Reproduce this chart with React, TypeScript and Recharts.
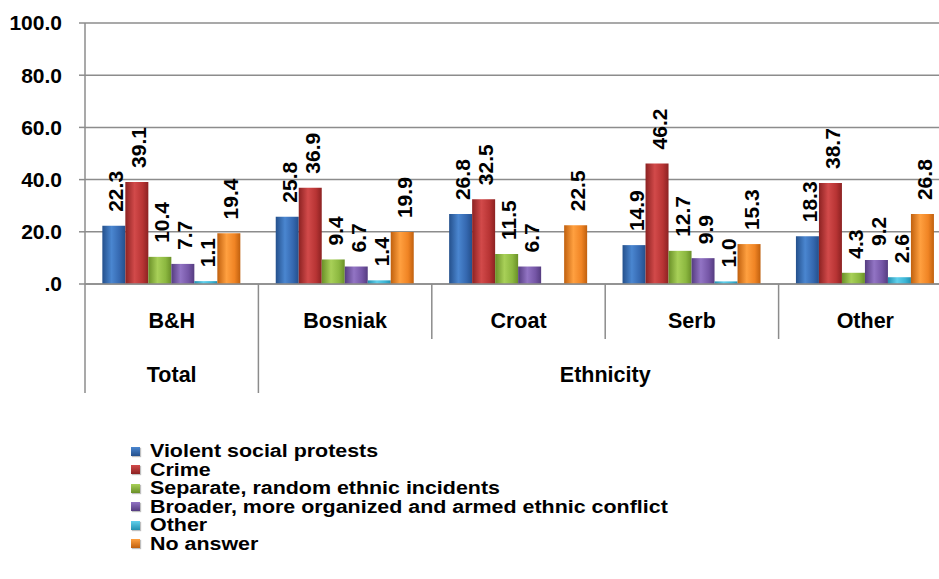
import React from 'react';
import { BarChart, Bar, XAxis, YAxis, CartesianGrid, Legend, LabelList } from 'recharts';

const categories = ['B&H', 'Bosniak', 'Croat', 'Serb', 'Other'];
const groupLabels = ['Total', 'Ethnicity', 'Ethnicity', 'Ethnicity', 'Ethnicity'];
const violentProtests = [22.3, 25.8, 26.8, 14.9, 18.3];
const crime = [39.1, 36.9, 32.5, 46.2, 38.7];
const separateIncidents = [10.4, 9.4, 11.5, 12.7, 4.3];
const broaderConflict = [7.7, 6.7, 6.7, 9.9, 9.2];
const otherAnswer = [1.1, 1.4, 0, 1.0, 2.6];
const noAnswer = [19.4, 19.9, 22.5, 15.3, 26.8];
const yTicks = [0, 20, 40, 60, 80, 100];

const seriesNames = [
  'Violent social protests',
  'Crime',
  'Separate, random ethnic incidents',
  'Broader, more organized and armed ethnic conflict',
  'Other',
  'No answer',
];
const seriesValues = [violentProtests, crime, separateIncidents, broaderConflict, otherAnswer, noAnswer];
const seriesKeys = ['s0', 's1', 's2', 's3', 's4', 's5'];

const palette = [
  { dark: '#24508c', mid: '#4a86d0', base: '#3568b0' },
  { dark: '#8c2222', mid: '#d24a4a', base: '#b83434' },
  { dark: '#6a9028', mid: '#a8d058', base: '#8cb840' },
  { dark: '#553c80', mid: '#9274c4', base: '#7556a6' },
  { dark: '#2290b0', mid: '#60d0ec', base: '#3cb6d6' },
  { dark: '#c0600e', mid: '#ffa040', base: '#f08424' },
];

const data = categories.map((name, i) => {
  const row: any = { name, group: groupLabels[i] };
  seriesKeys.forEach((k, j) => {
    row[k] = seriesValues[j][i];
  });
  return row;
});

const FONT = '"Liberation Sans", Arial, Helvetica, sans-serif';
const GRID = '#8c8c8c';

const fmt = (v: number) => (v === 0 ? '.0' : v.toFixed(1));

const ValueLabel = (props: any) => {
  const { x, y, width, value } = props;
  const cx = Number(x) + Number(width) / 2 + 2;
  const ty = Number(y) - 14;
  return (
    <text
      x={cx}
      y={ty}
      transform={`rotate(-90 ${cx} ${ty})`}
      textAnchor="start"
      dominantBaseline="central"
      fontFamily={FONT}
      fontWeight={700}
      fontSize={21}
      fill="#000"
    >
      {fmt(Number(value))}
    </text>
  );
};

const CategoryTick = (props: any) => {
  const { x, y, payload, index } = props;
  const half = payload && payload.offset ? payload.offset : 86.7;
  const left = x - half;
  const longLine = index === 0 || index === 1;
  return (
    <g>
      <line x1={left} y1={y} x2={left} y2={longLine ? y + 109 : y + 55} stroke={GRID} strokeWidth={1.5} />
      <text
        x={x}
        y={y + 37}
        textAnchor="middle"
        dominantBaseline="central"
        fontFamily={FONT}
        fontWeight={700}
        fontSize={21.5}
        fill="#000"
      >
        {payload.value}
      </text>
      {index === 0 && (
        <text
          x={x}
          y={y + 91}
          textAnchor="middle"
          dominantBaseline="central"
          fontFamily={FONT}
          fontWeight={700}
          fontSize={21.5}
          fill="#000"
        >
          {groupLabels[0]}
        </text>
      )}
      {index === 2 && (
        <text
          x={x + half}
          y={y + 91}
          textAnchor="middle"
          dominantBaseline="central"
          fontFamily={FONT}
          fontWeight={700}
          fontSize={21.5}
          fill="#000"
        >
          {groupLabels[2]}
        </text>
      )}
    </g>
  );
};

const ROW_H = 18.5;

const LegendContent = (props: any) => {
  const payload = props.payload || [];
  return (
    <div style={{ fontFamily: FONT, fontWeight: 700, fontSize: 18, color: '#000' }}>
      {payload.map((entry: any, i: number) => {
        const idx = seriesNames.indexOf(entry.value);
        const p = palette[idx >= 0 ? idx : i % palette.length];
        return (
          <div
            key={i}
            style={{ display: 'flex', alignItems: 'center', whiteSpace: 'nowrap', height: ROW_H, overflow: 'visible' }}
          >
            <span
              style={{
                display: 'inline-block',
                flex: '0 0 auto',
                width: 9,
                height: 9,
                marginRight: 10,
                background: `linear-gradient(to bottom, ${p.mid}, ${p.dark})`,
                boxShadow: '1px 1px 1px rgba(0,0,0,0.25)',
              }}
            />
            <span
              style={{
                display: 'inline-block',
                lineHeight: `${ROW_H}px`,
                height: ROW_H,
                transform: 'scaleX(1.19)',
                transformOrigin: 'left center',
              }}
            >
              {entry.value}
            </span>
          </div>
        );
      })}
    </div>
  );
};

export default function App() {
  return (
    <div
      style={{
        position: 'absolute',
        left: 0,
        top: 0,
        width: 939,
        height: 579,
        overflow: 'hidden',
        background: '#fff',
      }}
    >
      <BarChart
        width={960}
        height={579}
        data={data}
        margin={{ top: 23, right: 8, left: 0, bottom: 185 }}
        barCategoryGap="10%"
        barGap={0}
      >
        <defs>
          {palette.map((p, i) => (
            <linearGradient key={i} id={`grad${i}`} x1="0" y1="0" x2="1" y2="0">
              <stop offset="0%" stopColor={p.dark} />
              <stop offset="40%" stopColor={p.mid} />
              <stop offset="75%" stopColor={p.base} />
              <stop offset="100%" stopColor={p.dark} />
            </linearGradient>
          ))}
        </defs>
        <CartesianGrid horizontal vertical={false} stroke={GRID} strokeWidth={1.5} />
        <XAxis
          dataKey="name"
          height={110}
          interval={0}
          tickLine={false}
          tickSize={0}
          tickMargin={0}
          axisLine={{ stroke: GRID, strokeWidth: 1.5 }}
          tick={<CategoryTick />}
        />
        <YAxis
          width={85}
          domain={[0, 100]}
          ticks={yTicks}
          interval={0}
          tickFormatter={fmt}
          tickSize={6}
          tickMargin={17}
          axisLine={{ stroke: GRID, strokeWidth: 1.5 }}
          tickLine={{ stroke: GRID, strokeWidth: 1.5 }}
          tick={{ fontFamily: FONT, fontWeight: 700, fontSize: 21, fill: '#000' }}
        />
        <Legend
          layout="vertical"
          align="center"
          verticalAlign="middle"
          itemSorter={null as any}
          content={<LegendContent />}
          wrapperStyle={{ left: 131, top: 442, width: 650, height: 112 }}
        />
        {seriesKeys.map((k, i) => (
          <Bar
            key={k}
            dataKey={k}
            name={seriesNames[i]}
            fill={`url(#grad${i})`}
            isAnimationActive={false}
          >
            <LabelList dataKey={k} content={<ValueLabel />} />
          </Bar>
        ))}
      </BarChart>
    </div>
  );
}
